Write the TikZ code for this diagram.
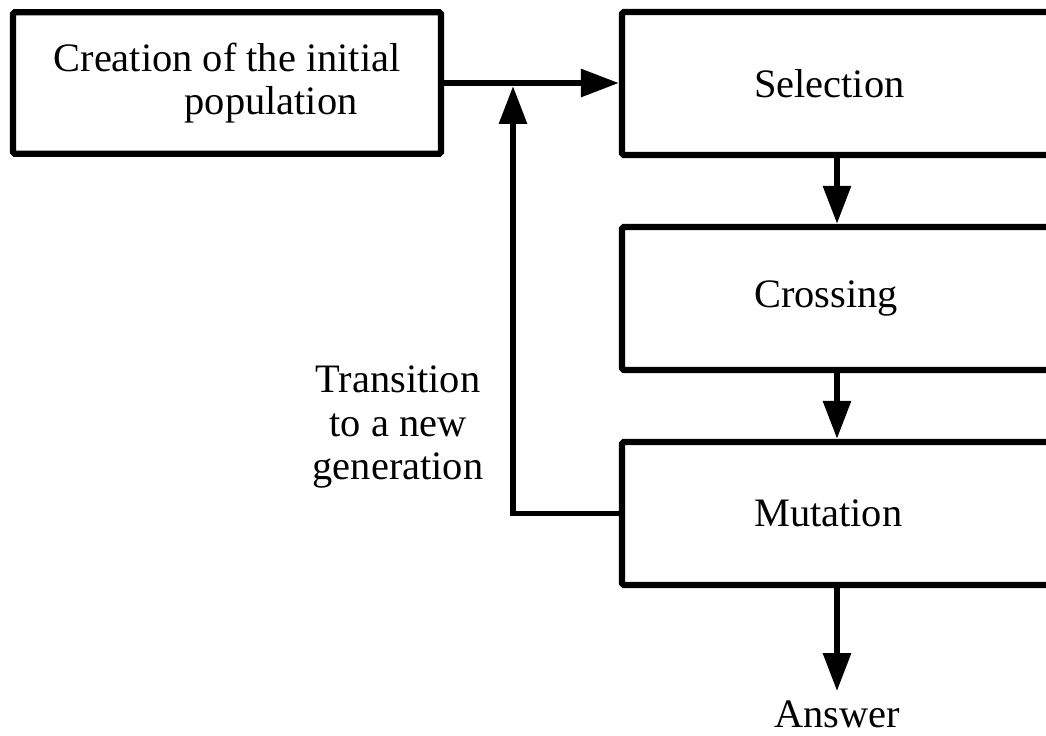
\documentclass[tikz,border=0pt]{standalone}
\usepackage{fontspec}
\setmainfont{Liberation Serif}
\usetikzlibrary{arrows.meta,positioning}

\begin{document}
\begin{tikzpicture}[
      x=0.02cm, y=-0.02cm,
      stage/.style={draw, line width=3.6pt, rounded corners=1pt, inner sep=0pt, minimum height=2.86cm, minimum width=9.56cm},
      flow/.style={draw, line width=3.4pt, -{Triangle[length=0.76cm, width=0.54cm]}},
      every node/.style={font=\fontsize{23}{24}\selectfont}
    ]
    \useasboundingbox (0,0) rectangle (1046,735);
    \clip (0,0) rectangle (1046,735);
    % Stages of the algorithm (right column runs past the page edge)
    \node[stage, minimum width=8.56cm, minimum height=2.83cm, align=left] (init) at (227,83) {Creation of the initial\\\hspace*{2.62cm}population};
    \node[stage] (sel) at (861,83.5) {};
    \node[stage] (cro) at (861,298.5) {};
    \node[stage] (mut) at (861,513.5) {};
    \node[anchor=west, inner sep=0pt] (selt) at ([xshift=2.7cm]sel.west) {Selection};
    \node[anchor=west, inner sep=0pt] (crot) at ([xshift=2.7cm]cro.west) {Crossing};
    \node[anchor=west, inner sep=0pt] (mutt) at ([xshift=2.7cm]mut.west) {Mutation};
    \node[inner sep=0pt] (ans) at (837,714) {Answer};
    \node[align=center, inner sep=0pt, font=\fontsize{23}{24.7}\selectfont] (trans) at (398,427) {Transition\\to a new\\generation};
    \coordinate (merge) at (513,86);
    % Connectors
    \draw[flow] (init.east) -- (init.east -| sel.west);
    \draw[flow] (sel.south -| ans) -- (cro.north -| ans);
    \draw[flow] (cro.south -| ans) -- (mut.north -| ans);
    \draw[flow] (mut.south -| ans) -- ([yshift=0.18cm]ans.north);
    \draw[flow] (mut.west) -| (merge);
  \end{tikzpicture}
\end{document}
